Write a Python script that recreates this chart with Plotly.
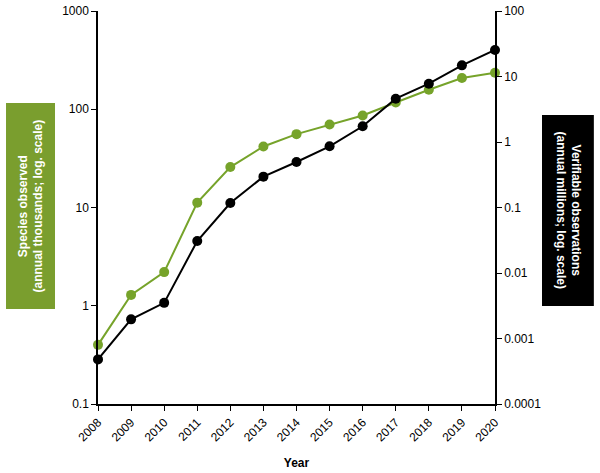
import plotly.graph_objects as go

years = list(range(2008, 2021))
species_thousands = [0.40, 1.29, 2.2, 11.2, 25.8, 41.8, 55.8, 70, 86.5, 117, 158, 208, 235]
observations_millions = [0.00048, 0.00196, 0.0035, 0.0308, 0.117, 0.296, 0.495, 0.86, 1.74, 4.58, 7.77, 14.8, 25.4]

left_ticks = [0.1, 1, 10, 100, 1000]
left_labels = ["0.1", "1", "10", "100", "1000"]
right_ticks = [0.0001, 0.001, 0.01, 0.1, 1, 10, 100]
right_labels = ["0.0001", "0.001", "0.01", "0.1", "1", "10", "100"]

green = "#76a32a"
box_green = "#7a9e2e"
font_family = "Liberation Sans, Arial, sans-serif"

fig = go.Figure()
fig.add_trace(go.Scatter(
    x=years, y=species_thousands, mode="lines+markers",
    line=dict(color=green, width=2), marker=dict(color=green, size=10),
    cliponaxis=False, yaxis="y", showlegend=False, hoverinfo="skip"))
fig.add_trace(go.Scatter(
    x=years, y=observations_millions, mode="lines+markers",
    line=dict(color="#000000", width=2), marker=dict(color="#000000", size=10),
    cliponaxis=False, yaxis="y2", showlegend=False, hoverinfo="skip"))

fig.update_layout(
    width=600, height=473,
    margin=dict(l=98, r=105, t=11, b=69),
    paper_bgcolor="white", plot_bgcolor="white",
    font=dict(family=font_family, size=12, color="black"),
    xaxis=dict(
        range=[2008, 2020], tickmode="array", tickvals=years,
        ticktext=[str(y) for y in years], tickangle=-45,
        tickfont=dict(size=12, color="black"),
        showline=True, linecolor="black", linewidth=1.5,
        ticks="outside", ticklen=5, tickcolor="black",
        showgrid=False, zeroline=False, automargin=False,
        title=dict(text="<b>Year</b>", font=dict(size=12)),
    ),
    yaxis=dict(
        type="log", range=[-1, 3], tickmode="array",
        tickvals=left_ticks, ticktext=left_labels, automargin=False,
        tickfont=dict(size=12, color="black"),
        showline=True, linecolor="black", linewidth=1.5,
        ticks="outside", ticklen=5, tickcolor="black",
        showgrid=False, zeroline=False,
    ),
    yaxis2=dict(
        type="log", range=[-4, 2], tickmode="array",
        tickvals=right_ticks, ticktext=right_labels, automargin=False,
        tickfont=dict(size=12, color="black"),
        overlaying="y", side="right",
        showline=True, linecolor="black", linewidth=1.5,
        ticks="outside", ticklen=5, tickcolor="black",
        showgrid=False, zeroline=False,
    ),
)

# label boxes
fig.add_shape(type="rect", xref="paper", yref="paper",
              x0=-0.2317, x1=-0.1083, y0=0.2417, y1=0.766,
              fillcolor=box_green, line=dict(width=0), layer="above")
fig.add_shape(type="rect", xref="paper", yref="paper",
              x0=1.1184, x1=1.249, y0=0.2494, y1=0.7354,
              fillcolor="black", line=dict(width=0), layer="above")

fig.add_annotation(xref="paper", yref="paper", x=(-0.2317 - 0.1083) / 2, y=(0.2417 + 0.766) / 2,
                   text="<b>Species observed<br>(annual thousands; log. scale)</b>",
                   textangle=-90, showarrow=False, font=dict(color="white", size=12),
                   xanchor="center", yanchor="middle")
fig.add_annotation(xref="paper", yref="paper", x=(1.1184 + 1.249) / 2, y=(0.2494 + 0.7354) / 2,
                   text="<b>Verifiable observations<br>(annual millions; log. scale)</b>",
                   textangle=90, showarrow=False, font=dict(color="white", size=12),
                   xanchor="center", yanchor="middle")

fig.write_html("out.html", config={"displayModeBar": False},
               post_script="document.body.style.margin='0';")
